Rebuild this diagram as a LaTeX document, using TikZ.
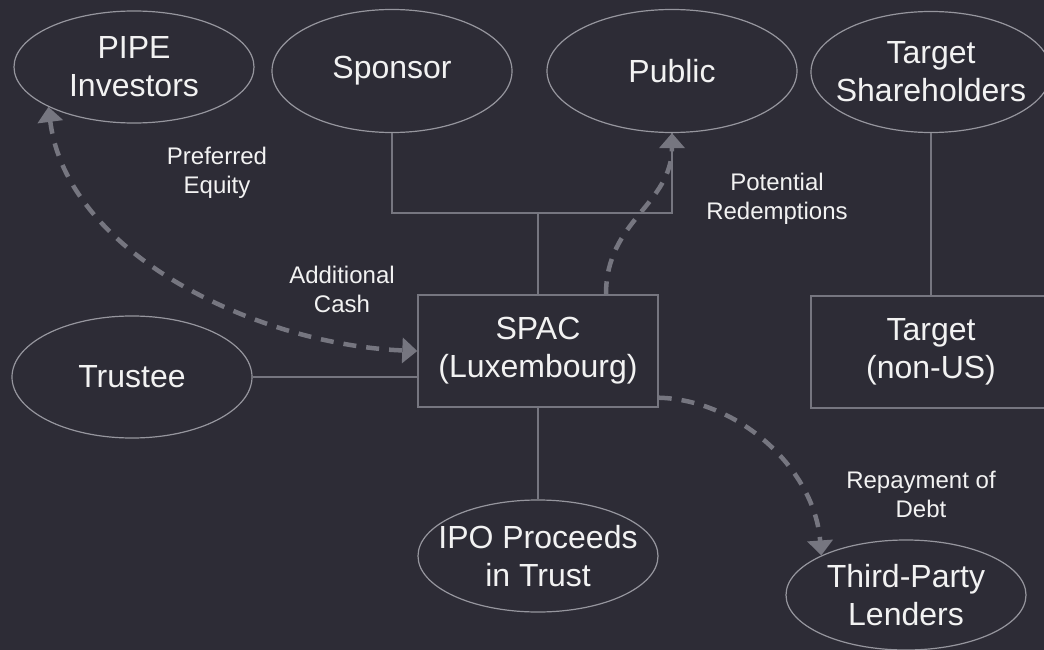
\documentclass[tikz,border=0pt]{standalone}
\usepackage{fontspec}
\setmainfont{Liberation Sans}
\usepackage{tikz}
\usetikzlibrary{shapes.geometric,arrows.meta}
\definecolor{bgdark}{RGB}{45,44,54}
\definecolor{rimgray}{RGB}{150,150,158}
\definecolor{linegray}{RGB}{118,118,128}
\definecolor{flowgray}{RGB}{118,118,128}
\definecolor{txtwhite}{RGB}{242,242,242}
\newcommand{\bigtxt}{\fontsize{32}{38}\selectfont}
\newcommand{\smalltxt}{\fontsize{24}{29}\selectfont}
\tikzset{
  party/.style={ draw=rimgray, line width=1.2pt, ellipse, minimum width=240pt, minimum height=112pt,
    inner xsep=-40pt, inner ysep=0pt, align=center, text=txtwhite, font=\bigtxt }
}
\tikzset{
  entity/.style={ draw=linegray, line width=1.4pt, rectangle, minimum width=240pt, minimum height=112pt,
    inner sep=0pt, align=center, text=txtwhite, font=\bigtxt }
}
\tikzset{
  flowlbl/.style={ inner sep=0pt, align=center, text=txtwhite, font=\smalltxt }
}
\tikzset{
  flow/.style={ draw=flowgray, line width=4.5pt, dash pattern=on 13pt off 10pt,
    arrows={Triangle[length=15pt,width=25pt,fill=flowgray]-Triangle[length=15pt,width=25pt,fill=flowgray]} }
}

\begin{document}
\begin{tikzpicture}[x=1pt,y=1pt]
      \fill[bgdark] (0,0) rectangle (1044,-650);
      \useasboundingbox (0,0) rectangle (1044,-650);

      \node[party, minimum height=112pt] (PIPE) at (134,-67) {PIPE\\Investors};
      \node[party, minimum height=123pt] (Sponsor) at (392,-71) {Sponsor};
      \node[party, minimum height=123pt, minimum width=250pt] (Public) at (672,-71) {Public};
      \node[party, minimum height=121pt] (TgtSH) at (931,-72) {Target\\Shareholders};

      \node[party, minimum height=122pt] (Trustee) at (132,-377) {Trustee};
      \node[entity] (SPAC) at (538,-351) {SPAC\\(Luxembourg)};
      \node[entity] (Target) at (931,-352) {Target\\(non-US)};

      \node[party] (IPO) at (538,-556) {IPO Proceeds\\in Trust};
      \node[party, minimum height=110pt] (Lenders) at (906,-595) {Third-Party\\Lenders};

      \node[flowlbl] (lblPE) at (217,-173) {Preferred\\Equity};
      \node[flowlbl] (lblAC) at (342,-289) {Additional\\Cash};
      \node[flowlbl] (lblPR) at (777,-199) {Potential\\Redemptions};
      \node[flowlbl] (lblRD) at (921,-494) {Repayment of\\Debt};

      \coordinate (jn) at (538,-213);
      \begin{scope}[draw=linegray, line width=1.4pt]
        \draw (Sponsor.south) |- (jn) -| (Public.south);
        \draw (jn) -- (SPAC.north);
        \draw (TgtSH.south) -- (Target.north);
        \draw (Trustee.east) -- (Trustee.east -| SPAC.west);
        \draw (SPAC.south) -- (IPO.north);
      \end{scope}

      \begin{scope}[flow]
        \draw (PIPE.205) .. controls (67,-255) and (260,-345) .. (SPAC.west);
        \draw[arrows={-Triangle[length=15pt,width=25pt,fill=flowgray]}]
          ([xshift=68pt]SPAC.north) .. controls (606,-220) and (672,-205) .. (Public.south);
        \draw[arrows={-Triangle[length=15pt,width=25pt,fill=flowgray]}]
          ([yshift=10pt]SPAC.south east) .. controls (740,-400) and (815,-470) .. (Lenders.155);
      \end{scope}
    \end{tikzpicture}
\end{document}
